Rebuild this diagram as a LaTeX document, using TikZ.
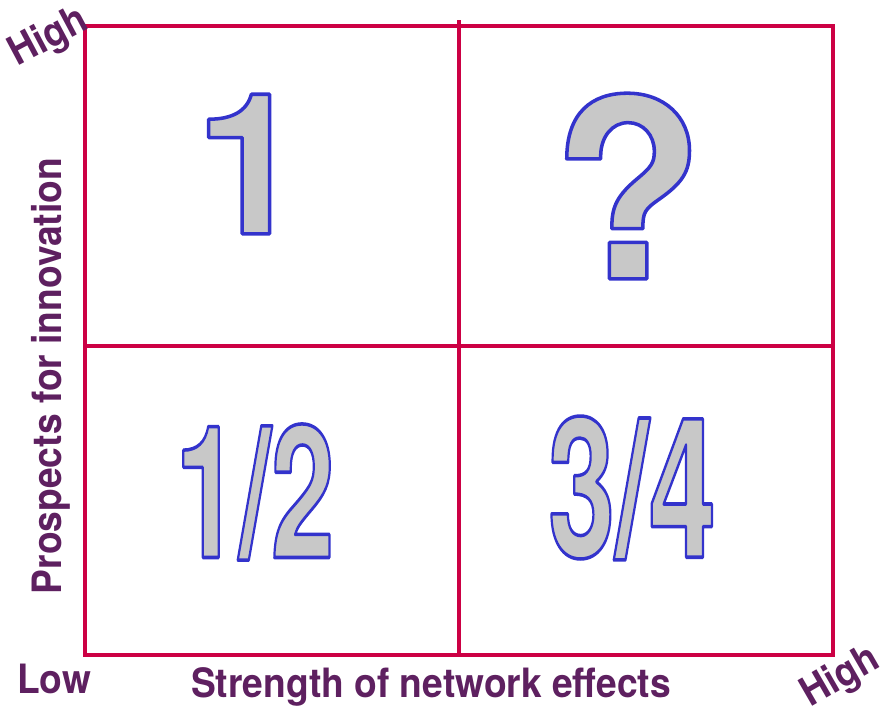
\documentclass[tikz,border=0pt]{standalone}
\usepackage{fontspec}
\setmainfont{TeX Gyre Heros}
\usepackage{graphicx}
\usetikzlibrary{positioning}

\definecolor{gridred}{RGB}{204,0,68}
\definecolor{axispurple}{RGB}{94,32,96}
\definecolor{numgray}{RGB}{200,200,200}
% filled and stroked glyphs
\newcommand{\outlinetext}[1]{{\color{numgray}\special{pdf:literal direct 2 Tr 2 w 1 j 0.2 0.2 0.8 RG}#1\special{pdf:literal direct 0 Tr}}}

\begin{document}
\begin{tikzpicture}[x=0.02cm, y=-0.02cm,
    gridline/.style={draw=gridred, line width=2.3pt},
    axislabel/.style={text=axispurple, inner sep=0pt, font=\bfseries\fontsize{23}{23}\selectfont},
    bignum/.style={inner sep=0pt}]
    \useasboundingbox (0,0) rectangle (886,707);
    % quadrants
    \draw[gridline] (85,26) rectangle (833,655);
    \draw[gridline] (459,20) -- (459,655);
    \draw[gridline] (85,346) -- (833,346);
    % quadrant marks
    \node[bignum, font=\bfseries\fontsize{112}{112}\selectfont] (markone) at (250,164) {\outlinetext{1}};
    \node[bignum, font=\bfseries\fontsize{142}{142}\selectfont] (markask) at (628,186) {\outlinetext{?}};
    \node[bignum, font=\bfseries\fontsize{105}{105}\selectfont] (markhalf) at (255,492) {\scalebox{0.62}[1]{\outlinetext{1/2}}};
    \node[bignum, font=\bfseries\fontsize{111}{111}\selectfont] (markquarter) at (632,488) {\scalebox{0.62}[1]{\outlinetext{3/4}}};
    % axis labels
    \node[axislabel, rotate=28] (yhigh) at (49,38) {\scalebox{0.92}[1]{High}};
    \node[axislabel, rotate=90] (ytitle) at (51,376) {\scalebox{0.92}[1]{Prospects for innovation}};
    \node[axislabel] (xlow) at (54,679) {\scalebox{0.92}[1]{Low}};
    \node[axislabel] (xtitle) at (431,687) {\scalebox{0.92}[1]{Strength of network effects}};
    \node[axislabel, rotate=30] (xhigh) at (841,678) {\scalebox{0.92}[1]{High}};
\end{tikzpicture}
\end{document}
